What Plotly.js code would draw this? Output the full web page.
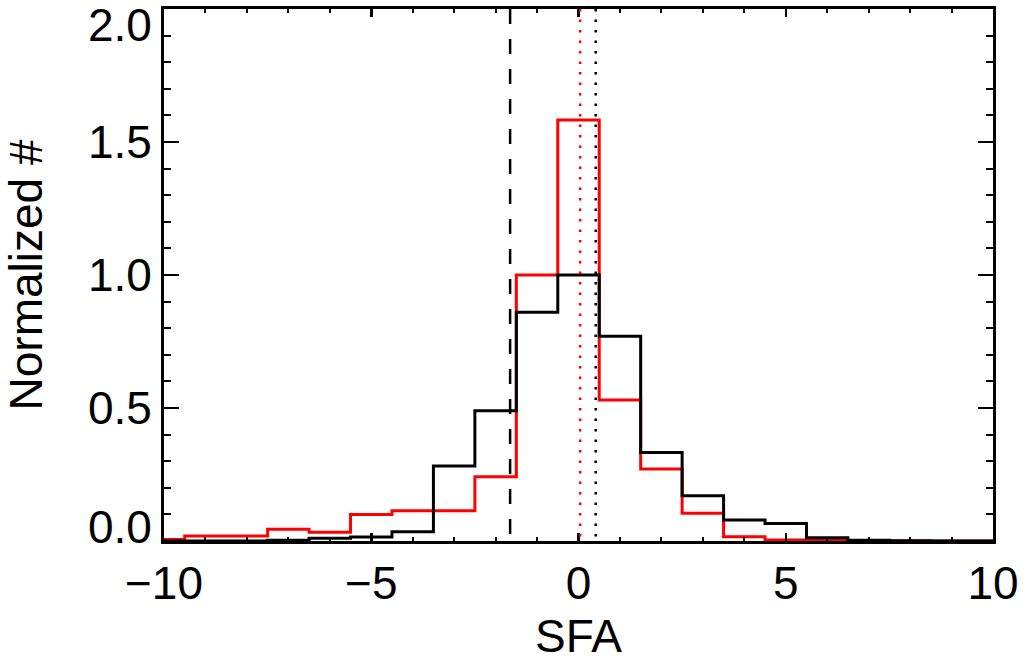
<!DOCTYPE html>
<html>
<head>
<meta charset="utf-8">
<script src="https://cdn.plot.ly/plotly-3.0.1.min.js"></script>
<style>html,body{margin:0;padding:0;background:#fff;}#chart{width:1028px;height:662px;}</style>
</head>
<body>
<div id="chart"></div>
<script>
// Bin centres (SFA), bin width 1
const binCenters = [-10,-9,-8,-7,-6,-5,-4,-3,-2,-1,0,1,2,3,4,5,6,7,8,9,10];
// Red histogram (normalized counts)
const redCounts = [0.006,0.019,0.019,0.044,0.033,0.100,0.114,0.114,0.242,1.0,1.583,0.53,0.271,0.104,0.016,0.004,0.003,0,0,0,0];
// Black histogram (normalized counts)
const blackCounts = [0,0,0,0.003,0.01,0.015,0.035,0.282,0.49,0.86,1.0,0.77,0.333,0.17,0.079,0.066,0.012,0.003,0.001,0,0];
// Vertical reference lines
const blackDashedX = -1.65;
const redDottedX = 0.04;
const blackDottedX = 0.415;
// Y tick labels
const yTickVals = [0, 0.5, 1.0, 1.5, 2.0];
const yTickText = ['0.0', '0.5', '1.0', '1.5', '2.0'];

const FONT = 'Liberation Sans, Arial, Helvetica, sans-serif';
const FS = 46;

const traces = [
  {x: binCenters, y: redCounts, type: 'scatter', mode: 'lines',
   line: {shape: 'hvh', color: '#ff0000', width: 3}, hoverinfo: 'x+y'},
  {x: binCenters, y: blackCounts, type: 'scatter', mode: 'lines',
   line: {shape: 'hvh', color: '#000000', width: 3}, hoverinfo: 'x+y'}
];

const vline = (xv, color, dash) => ({
  type: 'line', xref: 'x', yref: 'paper', x0: xv, x1: xv, y0: 1, y1: 0,
  line: {color: color, width: 2.5, dash: dash}, layer: 'above'
});

const shapes = [
  vline(blackDashedX, '#000000', '15px,15px'),
  vline(redDottedX, '#ff0000', '2.5px,8px'),
  vline(blackDottedX, '#000000', '2.5px,8px')
];

const yShifts = yTickVals.map(v => v === 0 ? 14 : (v === 2 ? -16 : 0));
const annotations = yTickVals.map((v, i) => ({
  x: 0, xref: 'paper', y: v, yref: 'y', text: yTickText[i], showarrow: false,
  xanchor: 'right', yanchor: 'middle', xshift: -10, yshift: yShifts[i],
  font: {family: FONT, size: FS, color: '#000'}
}));

const layout = {
  width: 1028, height: 662,
  margin: {l: 164, r: 35, t: 9, b: 121, pad: 0},
  paper_bgcolor: '#fff', plot_bgcolor: '#fff',
  showlegend: false,
  font: {family: FONT, size: FS, color: '#000'},
  xaxis: {
    range: [-10, 10], tick0: 0, dtick: 5, ticks: 'inside', ticklen: 8, tickwidth: 2.5,
    tickcolor: '#000', showline: true, linecolor: '#000', linewidth: 3, mirror: 'allticks',
    showgrid: false, zeroline: false,
    minor: {dtick: 1, ticks: 'inside', ticklen: 4, tickwidth: 2, tickcolor: '#000', showgrid: false},
    tickfont: {family: FONT, size: FS, color: '#000'}, ticklabelstandoff: 0,
    title: {text: 'SFA', font: {family: FONT, size: FS, color: '#000'}, standoff: 14}
  },
  yaxis: {
    range: [0, 2], tick0: 0, dtick: 0.5, ticks: 'inside', ticklen: 15, tickwidth: 2.5,
    tickcolor: '#000', showline: true, linecolor: '#000', linewidth: 3, mirror: 'allticks',
    showgrid: false, zeroline: false, showticklabels: false,
    minor: {dtick: 0.1, ticks: 'inside', ticklen: 7, tickwidth: 2, tickcolor: '#000', showgrid: false},
    title: {text: 'Normalized #', font: {family: FONT, size: FS, color: '#000'}, standoff: 110}
  },
  shapes: shapes,
  annotations: annotations
};

Plotly.newPlot('chart', traces, layout, {displayModeBar: false, staticPlot: true});
</script>
</body>
</html>
